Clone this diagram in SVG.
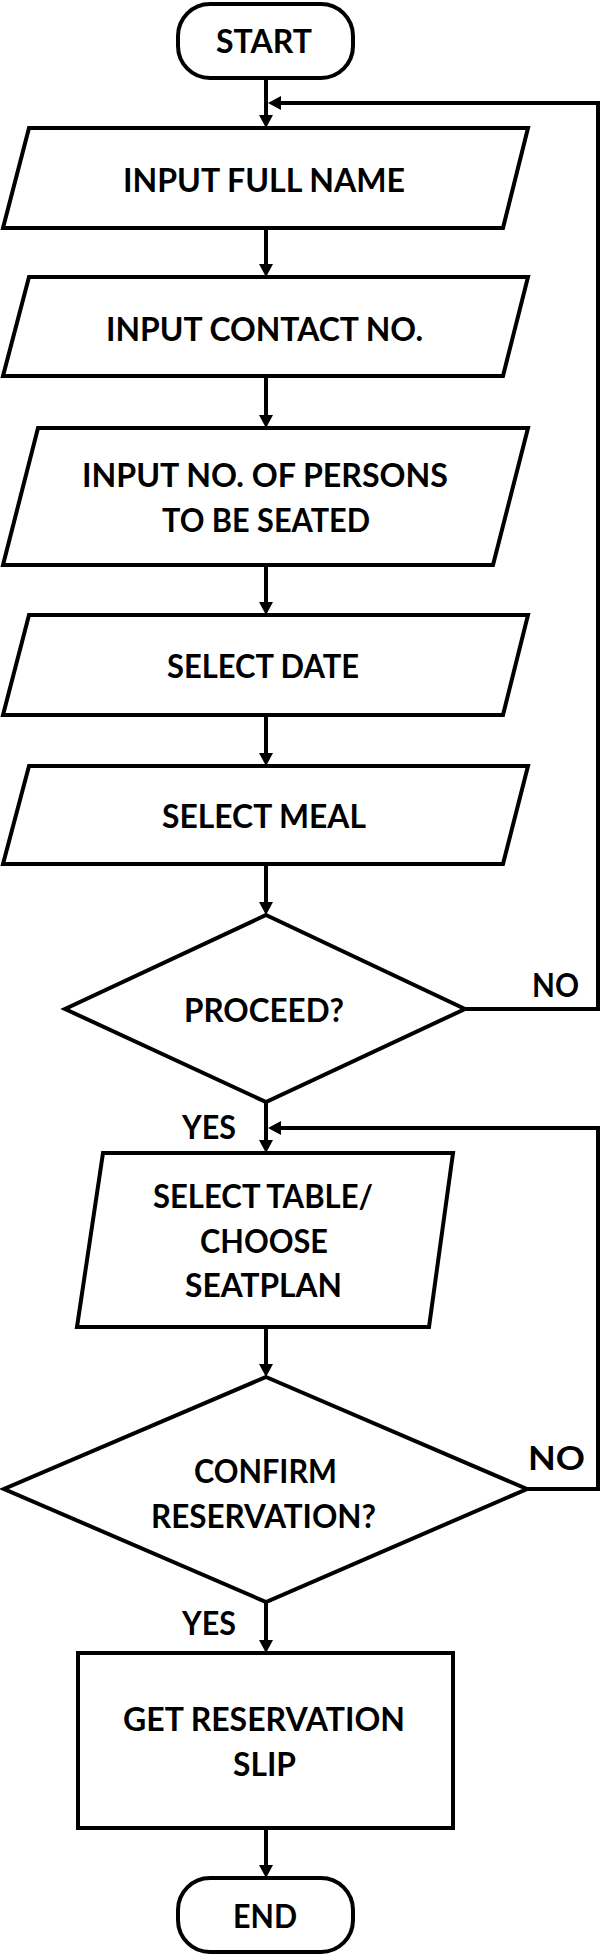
<svg xmlns="http://www.w3.org/2000/svg" width="612" height="1956" viewBox="0 0 612 1956">
<style>
.s{fill:#fff;stroke:#000;stroke-width:4;stroke-linejoin:miter}
.c{fill:none;stroke:#000;stroke-width:4}
text{font-family:Lato,"Open Sans","Liberation Sans",sans-serif;font-weight:bold;font-size:32px;fill:#000}
.m{text-anchor:middle}
</style>
<defs>
<marker id="ah" viewBox="0 0 13 14" refX="0" refY="7" markerWidth="13" markerHeight="14" markerUnits="userSpaceOnUse" orient="auto">
<path d="M0,0 L13,7 L0,14 z" fill="#000"/>
</marker>
</defs>
<rect width="612" height="1956" fill="#fff"/>
<g id="connectors">
<path class="c" d="M266,78 V115" marker-end="url(#ah)"/>
<path class="c" d="M266,228 V264" marker-end="url(#ah)"/>
<path class="c" d="M266,376 V415" marker-end="url(#ah)"/>
<path class="c" d="M266,565 V602" marker-end="url(#ah)"/>
<path class="c" d="M266,715 V753" marker-end="url(#ah)"/>
<path class="c" d="M266,864 V902" marker-end="url(#ah)"/>
<path class="c" d="M266,1102 V1140" marker-end="url(#ah)"/>
<path class="c" d="M266,1327 V1364" marker-end="url(#ah)"/>
<path class="c" d="M266,1602 V1640" marker-end="url(#ah)"/>
<path class="c" d="M266,1828 V1865" marker-end="url(#ah)"/>
<path class="c" d="M465,1009 H598 V103 H281" marker-end="url(#ah)"/>
<path class="c" d="M527,1489 H598 V1128 H281" marker-end="url(#ah)"/>
<text x="532" y="997" textLength="47" lengthAdjust="spacingAndGlyphs">NO</text>
<text x="182" y="1139" textLength="54" lengthAdjust="spacingAndGlyphs">YES</text>
<text x="528" y="1470" textLength="57" lengthAdjust="spacingAndGlyphs">NO</text>
<text x="182" y="1635" textLength="54" lengthAdjust="spacingAndGlyphs">YES</text>
</g>
<g id="start">
<rect class="s" x="178" y="4" width="175" height="74" rx="32" ry="32"/>
<text class="m" x="264" y="53" textLength="96" lengthAdjust="spacingAndGlyphs">START</text>
</g>
<g id="input-full-name">
<polygon class="s" points="29,128 528,128 503,228 3,228"/>
<text class="m" x="264" y="192" textLength="282" lengthAdjust="spacingAndGlyphs">INPUT FULL NAME</text>
</g>
<g id="input-contact">
<polygon class="s" points="29,277 528,277 503,376 3,376"/>
<text class="m" x="264.5" y="341" textLength="317" lengthAdjust="spacingAndGlyphs">INPUT CONTACT NO.</text>
</g>
<g id="input-persons">
<polygon class="s" points="38,428 528,428 493,565 3,565"/>
<text class="m" x="265" y="487" textLength="366" lengthAdjust="spacingAndGlyphs">INPUT NO. OF PERSONS</text>
<text class="m" x="266" y="532" textLength="208" lengthAdjust="spacingAndGlyphs">TO BE SEATED</text>
</g>
<g id="select-date">
<polygon class="s" points="29,615 528,615 503,715 3,715"/>
<text class="m" x="263" y="678" textLength="192" lengthAdjust="spacingAndGlyphs">SELECT DATE</text>
</g>
<g id="select-meal">
<polygon class="s" points="29,766 528,766 503,864 3,864"/>
<text class="m" x="264" y="828" textLength="204" lengthAdjust="spacingAndGlyphs">SELECT MEAL</text>
</g>
<g id="proceed">
<polygon class="s" points="266,915 465,1009 266,1102 65,1009"/>
<text class="m" x="264" y="1022" textLength="160" lengthAdjust="spacingAndGlyphs">PROCEED?</text>
</g>
<g id="select-table">
<polygon class="s" points="103,1153 453,1153 429,1327 77,1327"/>
<text class="m" x="263" y="1208" textLength="220" lengthAdjust="spacingAndGlyphs">SELECT TABLE/</text>
<text class="m" x="264" y="1253" textLength="128" lengthAdjust="spacingAndGlyphs">CHOOSE</text>
<text class="m" x="263.5" y="1297" textLength="157" lengthAdjust="spacingAndGlyphs">SEATPLAN</text>
</g>
<g id="confirm">
<polygon class="s" points="266,1377 527,1489 266,1602 4,1489"/>
<text class="m" x="265.5" y="1483" textLength="143" lengthAdjust="spacingAndGlyphs">CONFIRM</text>
<text class="m" x="263.5" y="1528" textLength="225" lengthAdjust="spacingAndGlyphs">RESERVATION?</text>
</g>
<g id="reservation-slip">
<rect class="s" x="78" y="1653" width="375" height="175"/>
<text class="m" x="264" y="1731" textLength="282" lengthAdjust="spacingAndGlyphs">GET RESERVATION</text>
<text class="m" x="264.5" y="1776" textLength="63" lengthAdjust="spacingAndGlyphs">SLIP</text>
</g>
<g id="end">
<rect class="s" x="178" y="1878" width="175" height="74" rx="32" ry="32"/>
<text class="m" x="265" y="1928" textLength="64" lengthAdjust="spacingAndGlyphs">END</text>
</g>
</svg>
